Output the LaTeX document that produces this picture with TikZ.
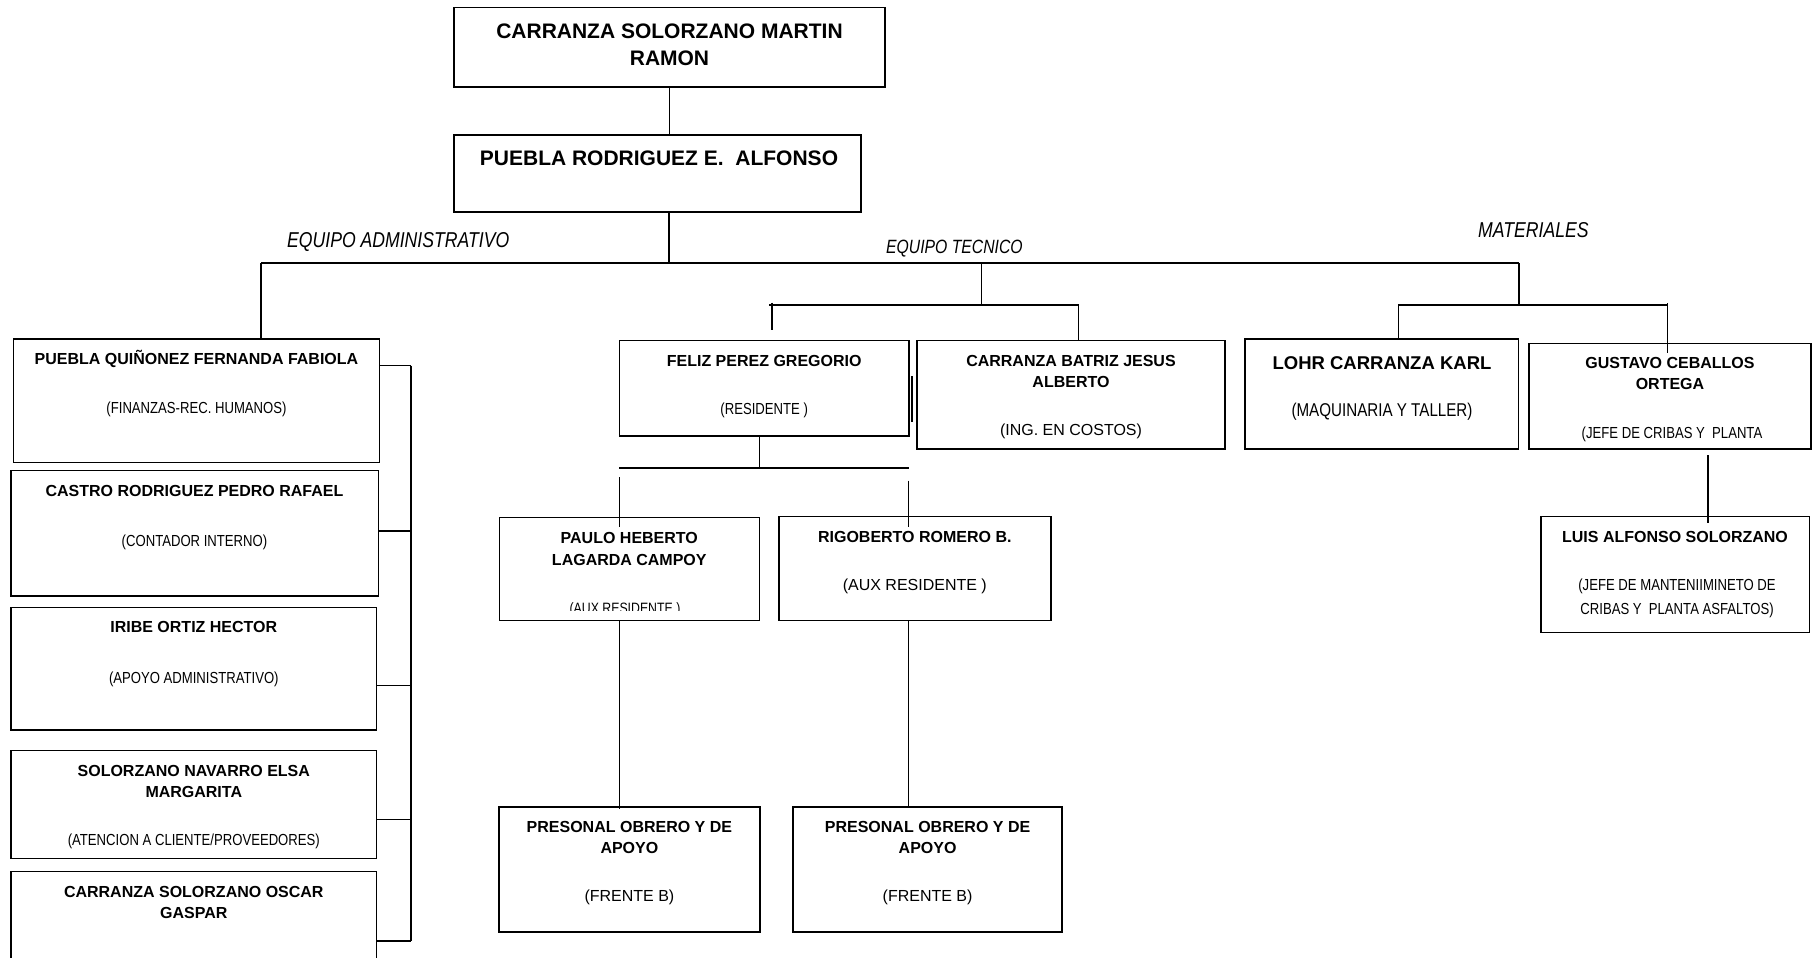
\documentclass[tikz,border=0pt]{standalone}
\usepackage{fontspec}
\setmainfont{Liberation Sans}
\newfontfamily\narrowsans[FakeStretch=0.82]{Liberation Sans}

\tikzset{
  box/.style={draw, line width=1.4pt, inner sep=0pt, outer sep=0pt, anchor=north west},
  link/.style={line width=1.3pt},
  ttl/.style={anchor=base, inner sep=0pt, font=\bfseries\fontsize{16}{19}\selectfont},
  bigttl/.style={anchor=base, inner sep=0pt, font=\bfseries\fontsize{21}{25}\selectfont},
  midttl/.style={anchor=base, inner sep=0pt, font=\bfseries\fontsize{18.5}{22}\selectfont},
  role/.style={anchor=base, inner sep=0pt, font=\narrowsans\fontsize{16}{19}\selectfont},
  bigrole/.style={anchor=base, inner sep=0pt, font=\narrowsans\fontsize{18.5}{22}\selectfont},
  wrole/.style={anchor=base, inner sep=0pt, font=\fontsize{16}{19}\selectfont},
  team/.style={anchor=base west, inner sep=0pt, font=\narrowsans\itshape\fontsize{21.5}{25}\selectfont},
}

% box: name, left x, top y, width, height
\newcommand\orgbox[5]{\node[box, minimum width=#4pt, minimum height=#5pt] (#1) at (#2,#3) {};}

\begin{document}
\begin{tikzpicture}[x=1pt, y=-1pt]
\useasboundingbox (0,0) rectangle (1813,958);
\clip (0,0) rectangle (1813,958);

% ---------- boxes ----------
\orgbox{top}{454}{7.5}{431}{79.5}
\orgbox{second}{454}{135}{407}{77}
\orgbox{quin}{13.3}{339}{366}{123.7}
\orgbox{castro}{11}{470.7}{367.3}{125.3}
\orgbox{iribe}{11}{607.3}{365.5}{122.7}
\orgbox{solor}{11}{750.7}{365.7}{107.6}
\orgbox{oscar}{11}{871.7}{365.7}{110}
\orgbox{feliz}{619.3}{340.7}{289.7}{95.3}
\orgbox{batriz}{917}{340.7}{308}{108.3}
\orgbox{lohr}{1245}{339}{273.7}{110}
\orgbox{gustavo}{1529}{343.3}{282}{105.7}
\orgbox{luis}{1541}{516.7}{268.3}{116}
\orgbox{paulo}{499.3}{517.3}{260}{103.4}
\orgbox{rigo}{779}{516.7}{272}{104}
\orgbox{presA}{499}{807}{261}{125}
\orgbox{presB}{793}{807}{269}{125}

% ---------- junction points ----------
\coordinate (busL) at (261,263);
\coordinate (busM) at (669,263);
\coordinate (busT) at (981.7,263);
\coordinate (busR) at (1519,263);
\coordinate (tecJ) at (981.7,305);
\coordinate (tecL) at (769.3,305);
\coordinate (tecR) at (1078.7,305);
\coordinate (tickA) at (772,302.5);
\coordinate (tickB) at (772,330);
\coordinate (matJ) at (1519,305);
\coordinate (matL) at (1398.3,305);
\coordinate (matR) at (1667.7,303);
\coordinate (matIn) at (1667.7,352.7);
\coordinate (gusA) at (1708,455);
\coordinate (gusB) at (1708,523);
\coordinate (felJ) at (759.3,468);
\coordinate (felL) at (619.3,468);
\coordinate (felR) at (909,468);
\coordinate (dropLa) at (619.3,477.3);
\coordinate (dropLb) at (619.3,527);
\coordinate (dropRa) at (908.5,480.5);
\coordinate (dropRb) at (908.5,527);
\coordinate (pauB) at (619.5,809);
\coordinate (rigB) at (908.5,807);
\coordinate (sideA) at (911.7,376);
\coordinate (sideB) at (911.7,422);
\coordinate (k1) at (411,365.7);
\coordinate (k2) at (411,531);
\coordinate (k3) at (411,685.7);
\coordinate (k4) at (411,819.3);
\coordinate (k5) at (411,941);

% ---------- connectors ----------
\draw[link] (top.south) -- (top.south |- second.north);
\draw[link] (second.south -| busM) -- (busM);
\draw[link] (busL) -- (busR);
\draw[link] (busL) -- (busL |- quin.north);
\draw[link] (busT) -- (tecJ);
\draw[link] (tecL) -- (tecR);
\draw[link] (tickA) -- (tickB);
\draw[link] (tecR) -- (tecR |- batriz.north);
\draw[link] (busR) -- (matJ);
\draw[link] (matL) -- (matL -| matR);
\draw[link] (matL) -- (matL |- lohr.north);
\draw[link] (matR) -- (matIn);
\draw[link] (gusA) -- (gusB);
\draw[link] (feliz.south -| felJ) -- (felJ);
\draw[link] (felL) -- (felR);
\draw[link] (dropLa) -- (dropLb);
\draw[link] (dropRa) -- (dropRb);
\draw[link] (paulo.south -| pauB) -- (pauB);
\draw[link] (rigo.south -| rigB) -- (rigB);
\draw[line width=1.6pt] (sideA) -- (sideB);
\draw[link] (k1) -- (k5);
\draw[link] (k1 -| quin.east) -- (k1);
\draw[link] (k2 -| castro.east) -- (k2);
\draw[link] (k3 -| iribe.east) -- (k3);
\draw[link] (k4 -| solor.east) -- (k4);
\draw[link] (k5 -| oscar.east) -- (k5);

% ---------- team labels ----------
\node[team] (teamAdm) at (287,247.3) {EQUIPO ADMINISTRATIVO};
\node[team, font=\narrowsans\itshape\fontsize{19.2}{23}\selectfont] (teamTec) at (886,253.3) {EQUIPO TECNICO};
\node[team] (teamMat) at (1478,237.3) {MATERIALES};

% ---------- box texts ----------
\node[bigttl] (topA) at (669.5,38.3) {CARRANZA SOLORZANO MARTIN};
\node[bigttl] (topB) at (669.5,66) {RAMON};
\node[bigttl] (secA) at (659,165.7) {PUEBLA RODRIGUEZ E.\ \ ALFONSO};

\node[ttl] (quinA) at (196.5,364) {PUEBLA QUIÑONEZ FERNANDA FABIOLA};
\node[role] (quinB) at (196.5,413.3) {(FINANZAS-REC. HUMANOS)};
\node[ttl] (castroA) at (194.5,496) {CASTRO RODRIGUEZ PEDRO RAFAEL};
\node[role] (castroB) at (194.5,546.7) {(CONTADOR INTERNO)};
\node[ttl] (iribeA) at (193.8,632.5) {IRIBE ORTIZ HECTOR};
\node[role] (iribeB) at (193.8,683) {(APOYO ADMINISTRATIVO)};
\node[ttl] (solorA) at (193.8,776.7) {SOLORZANO NAVARRO ELSA};
\node[ttl] (solorB) at (193.8,797.7) {MARGARITA};
\node[role] (solorC) at (193.8,845.7) {(ATENCION A CLIENTE/PROVEEDORES)};
\node[ttl] (oscarA) at (193.8,897.3) {CARRANZA SOLORZANO OSCAR};
\node[ttl] (oscarB) at (193.8,918.3) {GASPAR};

\node[ttl] (felizA) at (764.2,366) {FELIZ PEREZ GREGORIO};
\node[role] (felizB) at (764.2,414) {(RESIDENTE )};
\node[ttl] (batrizA) at (1071,366.7) {CARRANZA BATRIZ JESUS};
\node[ttl] (batrizB) at (1071,387) {ALBERTO};
\node[wrole] (batrizC) at (1071,435.5) {(ING. EN COSTOS)};

\node[midttl] (lohrA) at (1382,369) {LOHR CARRANZA KARL};
\node[bigrole] (lohrB) at (1382,416.5) {(MAQUINARIA Y TALLER)};
\node[ttl] (gusT1) at (1670,368.5) {GUSTAVO CEBALLOS};
\node[ttl] (gusT2) at (1670,389.5) {ORTEGA};
\node[role] (gusT3) at (1672,438) {(JEFE DE CRIBAS Y\ \ PLANTA};
\node[ttl] (luisA) at (1675,542.3) {LUIS ALFONSO SOLORZANO};
\node[role] (luisB) at (1677,590.7) {(JEFE DE MANTENIIMINETO DE};
\node[role] (luisC) at (1677,614.3) {CRIBAS Y\ \ PLANTA ASFALTOS)};

\node[ttl] (pauloA) at (629.3,543.3) {PAULO HEBERTO};
\node[ttl] (pauloB) at (629.3,565) {LAGARDA CAMPOY};
\begin{scope}
  \clip (500,585) rectangle (758,610);
  \node[role, font=\narrowsans\fontsize{15}{18}\selectfont] (pauloC) at (625,613) {(AUX RESIDENTE )};
\end{scope}
\node[ttl] (rigoA) at (914.8,542.3) {RIGOBERTO ROMERO B.};
\node[wrole] (rigoB) at (914.8,590) {(AUX RESIDENTE )};

\node[ttl] (presA1) at (629.4,832.7) {PRESONAL OBRERO Y DE};
\node[ttl] (presA2) at (629.4,853.3) {APOYO};
\node[wrole] (presA3) at (629.4,901.7) {(FRENTE B)};
\node[ttl] (presB1) at (927.6,832.7) {PRESONAL OBRERO Y DE};
\node[ttl] (presB2) at (927.6,853.3) {APOYO};
\node[wrole] (presB3) at (927.6,901.7) {(FRENTE B)};
\end{tikzpicture}
\end{document}
